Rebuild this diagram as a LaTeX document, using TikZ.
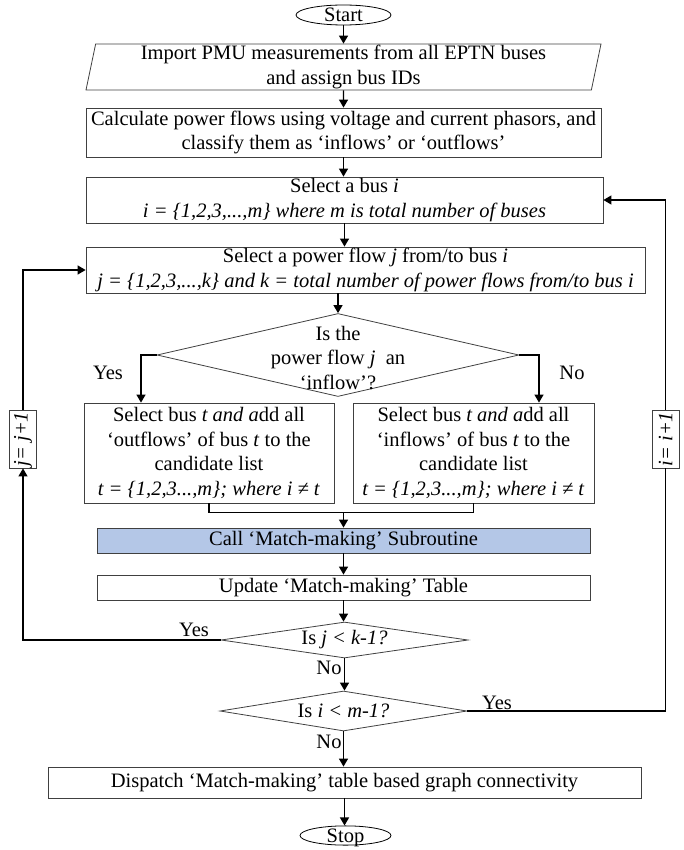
\documentclass[tikz,border=0pt]{standalone}
\usepackage{fontspec}
\setmainfont{Liberation Serif}
\usetikzlibrary{positioning, shapes.geometric, arrows.meta}
\definecolor{callblue}{RGB}{180,199,231}
\tikzset{
    procnode/.style={
        rectangle,
        draw=black!75, % 边框深灰
        line width=0.8pt,
        inner sep=1pt,
        align=center
    },
    ionode/.style={
        trapezium,
        trapezium left angle=78,
        trapezium right angle=102,
        trapezium stretches body,
        draw=black!75,
        line width=0.8pt,
        inner sep=1pt,
        align=center
    },
    termnode/.style={
        ellipse,
        draw=black,
        line width=0.8pt,
        inner sep=0pt,
        text height=13.6pt,
        text depth=0pt
    },
    decnode/.style={
        diamond,
        draw=black!75,
        line width=0.8pt,
        inner sep=0pt
    },
    callnode/.style={
        procnode,
        fill=callblue,
        minimum width=493pt,
        minimum height=25pt
    },
    incnode/.style={
        rectangle,
        draw=black!75,
        fill=white,
        line width=0.8pt,
        rotate=90,
        inner sep=1pt,
        minimum width=58pt,
        minimum height=27pt
    },
    arr/.style={-{Triangle[length=8pt,width=9pt]}, line width=1.3pt},
    line/.style={line width=1.3pt}
}
\begin{document}
\begin{tikzpicture}[x=1pt, y=1pt, font=\fontsize{20.5}{24.5}\selectfont]
    \useasboundingbox (0,0) rectangle (684,-850);
    % 主流程
    \node[termnode, minimum width=95pt, minimum height=20pt] (start) at (343.5,-15) {Start};
    \node[ionode, minimum width=515pt, minimum height=46pt] (imp) at (343.5,-67)
        {Import PMU measurements from all EPTN buses\\and assign bus IDs};
    \node[procnode, minimum width=515pt, minimum height=49pt] (calc) at (343.5,-132.5)
        {Calculate power flows using voltage and current phasors, and\\classify them as `inflows' or `outflows'};
    \node[procnode, minimum width=517pt, minimum height=46pt] (selbus) at (344.5,-200)
        {Select a bus \textit{i}\\\textit{i = \{1,2,3,...,m\} where m is total number of buses}};
    \node[procnode, minimum width=559pt, minimum height=46pt] (selflow) at (365.5,-270)
        {Select a power flow \textit{j} from/to bus \textit{i}\\\textit{j = \{1,2,3,...,k\} and k = total number of power flows from/to bus i}};
    \node[decnode, minimum width=362pt, minimum height=83pt,
        label={[align=center, yshift=-3pt]center:Is the\\power flow \textit{j}\enspace an\\`inflow'?}] (dflow) at (338,-355) {};
    \node[procnode, minimum width=250pt, minimum height=100pt] (tout) at (209,-453)
        {Select bus \textit{t and a}dd all\\`outflows' of bus \textit{t} to the\\candidate list\\\textit{t = \{1,2,3...,m\}; where i ≠ t}};
    \node[procnode, minimum width=241pt, minimum height=100pt] (tin) at (473.5,-453)
        {Select bus \textit{t and a}dd all\\`inflows' of bus \textit{t} to the\\candidate list\\\textit{t = \{1,2,3...,m\}; where i ≠ t}};
    \node[callnode] (call) at (343.5,-540.5) {Call `Match-making' Subroutine};
    \node[procnode, minimum width=493pt, minimum height=25pt] (upd) at (343.5,-587.5) {Update `Match-making' Table};
    \node[decnode, minimum width=247pt, minimum height=36pt, label=center:{Is \textit{j < k-1?}}] (dj) at (344.5,-640) {};
    \node[decnode, minimum width=247pt, minimum height=40pt, label=center:{Is \textit{i < m-1?}}] (di) at (343.5,-711) {};
    \node[procnode, minimum width=593pt, minimum height=31pt] (disp) at (344.5,-782.5)
        {Dispatch `Match-making' table based graph connectivity};
    \node[termnode, minimum width=91pt, minimum height=19pt] (stop) at (345.5,-835.5) {Stop};
    % 循环计数
    \node[incnode] (jinc) at (23,-439) {\textit{j= j+1}};
    \node[incnode] (iinc) at (665.5,-439) {\textit{i= i+1}};
    % 分支标签
    \node (yes1) at (108,-373) {Yes};
    \node (no1) at (572,-373) {No};
    \node (yes2) at (194,-630) {Yes};
    \node (no2) at (329,-668) {No};
    \node (yes3) at (497,-703) {Yes};
    \node (no3) at (329,-742) {No};
    % 连线
    \draw[arr] (start) -- (imp);
    \draw[arr] (imp) -- (calc);
    \draw[arr] (calc.south) -- (calc.south |- selbus.north);
    \draw[arr] (selbus.south) -- (selbus.south |- selflow.north);
    \draw[arr] (selflow.south -| dflow.north) -- (dflow.north);
    \draw[arr] (dflow.west) -| ([xshift=-68pt]tout.north);
    \draw[arr] (dflow.east) -| ([xshift=65.5pt]tin.north);
    \draw[line] (tout.south) -- ++(0,-9) coordinate (mrg) -| (tin.south);
    \draw[arr] (mrg -| call.north) -- (call.north);
    \draw[arr] (call) -- (upd);
    \draw[arr] (upd.south) -- (upd.south |- dj.north);
    \draw[arr] (dj.south) -- (dj.south |- di.north);
    \draw[arr] (di.south) -- (di.south |- disp.north);
    \draw[arr] (disp.south) -- (disp.south |- stop.north);
    \draw[arr] (dj.west) -| (jinc.west);
    \draw[arr] (jinc.east) |- (selflow.west);
    \draw[line] (di.east) -| (iinc.west);
    \draw[arr] (iinc.east) |- (selbus.east);
\end{tikzpicture}
\end{document}
